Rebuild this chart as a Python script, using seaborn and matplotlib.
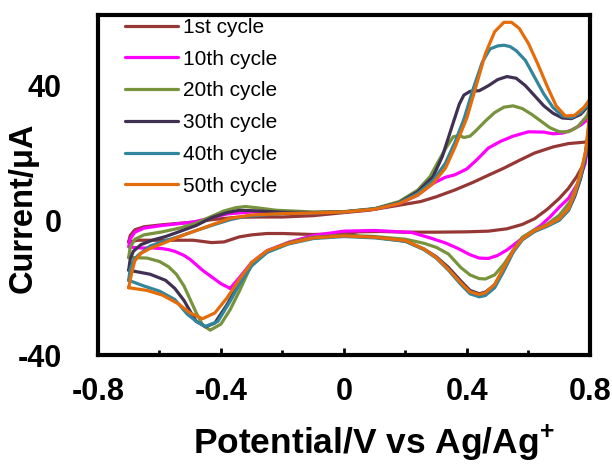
import pandas as pd
import seaborn as sns
from matplotlib import pyplot as plt

# cyclic voltammograms, each listed in scan order (anodic sweep then cathodic sweep)
cycles = ['1st cycle', '10th cycle', '20th cycle', '30th cycle', '40th cycle', '50th cycle']
colors = ['#953735', '#FF00FF', '#77933C', '#403152', '#31859C', '#E46C0A']

v_1st = [-0.70, -0.695, -0.68, -0.65, -0.59, -0.50, -0.42, -0.35, -0.28, -0.20, -0.10, 0.00, 0.08, 0.16,
         0.25, 0.30, 0.36, 0.42, 0.46, 0.52, 0.57, 0.62, 0.68, 0.73, 0.78, 0.80,
         0.79, 0.775, 0.757, 0.73, 0.70, 0.66, 0.62, 0.58, 0.53, 0.47, 0.40, 0.30, 0.20, 0.12, 0.05,
         0.00, -0.10, -0.20, -0.25, -0.30, -0.34, -0.39, -0.43, -0.49, -0.59, -0.67, -0.70]
i_1st = [-6.4, -4.5, -2.8, -1.9, -1.3, -0.6, 0.3, 0.9, 1.0, 1.0, 1.4, 2.3, 3.0, 4.2,
         5.6, 7.0, 9.0, 11.3, 13.0, 15.5, 17.8, 20.0, 21.8, 22.8, 23.2, 23.5,
         19.5, 16.0, 13.0, 9.5, 6.5, 3.2, 0.5, -1.2, -2.5, -3.2, -3.4, -3.5, -3.5, -3.3, -3.4,
         -3.9, -4.2, -3.9, -3.9, -4.3, -4.9, -6.4, -6.6, -5.9, -5.9, -5.9, -6.4]

v_10th = [-0.37, -0.40, -0.43, -0.46, -0.485, -0.50, -0.52, -0.55, -0.57, -0.59, -0.62, -0.66, -0.70,
          -0.695, -0.68, -0.65, -0.59, -0.49, -0.43, -0.38, -0.30, -0.20, -0.10, 0.00, 0.10, 0.18,
          0.24, 0.29, 0.33, 0.36, 0.40, 0.43, 0.47, 0.51, 0.55, 0.60, 0.65, 0.68, 0.71, 0.74, 0.77, 0.80,
          0.795, 0.784, 0.76, 0.73, 0.70, 0.67, 0.64, 0.60, 0.57, 0.53, 0.50, 0.47, 0.44, 0.41, 0.37,
          0.33, 0.28, 0.22, 0.10, 0.00, -0.10, -0.18, -0.25, -0.30, -0.34, -0.37]
i_10th = [-20.2, -18.8, -16.8, -14.8, -12.8, -11.6, -10.4, -9.2, -8.7, -8.4, -8.2, -8.2, -7.9,
          -5.5, -3.5, -2.3, -1.5, -0.5, 0.8, 1.9, 2.5, 2.4, 2.3, 2.5, 3.3, 5.0,
          7.5, 11.0, 12.8, 13.5, 15.3, 17.8, 21.5, 23.5, 25.0, 26.3, 26.2, 25.7, 25.9, 26.8, 28.3, 30.5,
          24.0, 16.8, 10.9, 6.5, 3.9, 1.0, -1.5, -4.0, -6.0, -8.8, -10.4, -11.3, -11.2, -10.2, -8.3,
          -6.7, -5.2, -3.6, -3.0, -3.2, -4.5, -6.5, -9.0, -12.5, -17.0, -20.2]

v_20th = [-0.70, -0.695, -0.68, -0.65, -0.59, -0.53, -0.48, -0.43, -0.39, -0.35, -0.32, -0.28, -0.22,
          -0.10, 0.00, 0.10, 0.18, 0.24, 0.28, 0.31, 0.335, 0.355, 0.375, 0.39, 0.41, 0.43, 0.46, 0.49,
          0.52, 0.55, 0.58, 0.61, 0.64, 0.67, 0.70, 0.73, 0.76, 0.79, 0.80,
          0.795, 0.78, 0.76, 0.735, 0.70, 0.66, 0.62, 0.58, 0.55, 0.52, 0.49, 0.46, 0.44, 0.41, 0.38,
          0.34, 0.30, 0.26, 0.20, 0.10, 0.00, -0.10, -0.18, -0.25, -0.30, -0.34, -0.37, -0.40, -0.435,
          -0.46, -0.48, -0.50, -0.52, -0.545, -0.57, -0.60, -0.64, -0.70]
i_20th = [-11.0, -8.0, -5.6, -4.3, -3.4, -2.2, -0.8, 1.2, 2.8, 3.8, 4.1, 3.7, 3.0,
          2.5, 2.6, 3.5, 5.6, 9.0, 13.0, 18.0, 22.0, 24.8, 25.2, 24.6, 25.0, 26.7, 29.5, 32.0,
          33.6, 34.0, 33.2, 31.5, 29.5, 27.5, 26.3, 26.3, 27.8, 31.0, 33.5,
          25.0, 17.8, 11.0, 5.5, 1.5, -1.2, -2.8, -5.0, -8.9, -13.0, -16.2, -17.4, -17.3, -16.2, -14.0,
          -10.0, -8.0, -6.8, -5.6, -4.8, -4.4, -5.0, -6.6, -9.2, -13.0, -21.0, -26.5, -30.8, -32.6,
          -31.0, -27.5, -23.5, -19.5, -16.0, -13.8, -12.2, -11.2, -11.0]

v_30th = [-0.70, -0.695, -0.685, -0.66, -0.62, -0.58, -0.54, -0.48, -0.43, -0.38, -0.34, -0.28, -0.20,
          -0.10, 0.00, 0.10, 0.18, 0.24, 0.29, 0.32, 0.35, 0.375, 0.39, 0.41, 0.44, 0.47, 0.50, 0.53,
          0.56, 0.59, 0.62, 0.65, 0.68, 0.71, 0.74, 0.77, 0.80,
          0.795, 0.785, 0.77, 0.75, 0.73, 0.70, 0.66, 0.62, 0.58, 0.55, 0.52, 0.49, 0.46, 0.44, 0.41,
          0.38, 0.34, 0.30, 0.26, 0.20, 0.10, 0.00, -0.10, -0.18, -0.25, -0.30, -0.34, -0.38, -0.42,
          -0.45, -0.48, -0.50, -0.52, -0.55, -0.58, -0.63, -0.70]
i_30th = [-14.8, -11.5, -9.2, -7.2, -5.8, -4.8, -3.5, -1.5, 0.8, 2.3, 3.0, 2.8, 2.4,
          2.3, 2.5, 3.4, 5.3, 8.5, 13.0, 19.0, 27.5, 34.5, 37.2, 38.3, 38.5, 40.0, 41.8, 42.7,
          42.2, 40.0, 37.0, 34.0, 31.8, 30.4, 30.2, 31.5, 34.5,
          26.5, 18.5, 12.5, 7.0, 3.0, 0.2, -1.6, -3.2, -5.6, -9.2, -14.5, -19.2, -21.3, -21.8, -20.8,
          -18.0, -14.0, -10.8, -8.5, -6.2, -5.0, -4.6, -5.2, -6.8, -9.4, -13.2, -18.5, -25.0, -30.5,
          -31.6, -30.0, -27.0, -23.8, -20.2, -17.8, -16.0, -14.8]

v_40th = [-0.70, -0.695, -0.685, -0.67, -0.63, -0.58, -0.54, -0.48, -0.43, -0.37, -0.32, -0.20, -0.10,
          0.00, 0.10, 0.18, 0.24, 0.29, 0.33, 0.36, 0.39, 0.42, 0.45, 0.475, 0.50, 0.52, 0.54, 0.56,
          0.59, 0.62, 0.65, 0.68, 0.71, 0.74, 0.77, 0.79, 0.80,
          0.795, 0.785, 0.77, 0.75, 0.73, 0.70, 0.66, 0.62, 0.58, 0.55, 0.52, 0.49, 0.46, 0.44, 0.41,
          0.38, 0.34, 0.30, 0.26, 0.20, 0.10, 0.00, -0.10, -0.18, -0.25, -0.30, -0.34, -0.37, -0.41,
          -0.45, -0.48, -0.51, -0.55, -0.60, -0.65, -0.70]
i_40th = [-17.8, -14.5, -12.0, -10.4, -7.6, -6.0, -4.9, -3.0, -1.5, 0.2, 1.2, 2.0, 2.2,
          2.5, 3.4, 5.2, 8.0, 11.8, 17.0, 23.0, 30.0, 39.0, 47.0, 50.9, 51.8, 52.0, 51.6, 50.4,
          47.5, 42.5, 37.5, 33.5, 31.0, 30.5, 32.0, 34.0, 35.5,
          27.0, 19.0, 13.0, 7.5, 3.0, 0.0, -1.8, -3.3, -5.8, -9.5, -15.0, -20.0, -22.3, -22.7, -21.8,
          -19.0, -14.8, -11.2, -8.7, -6.2, -5.2, -4.8, -5.4, -7.0, -9.5, -13.5, -19.0, -24.0, -30.0,
          -31.5, -30.0, -27.8, -23.5, -21.0, -19.5, -17.8]

v_50th = [-0.70, -0.69, -0.68, -0.66, -0.63, -0.59, -0.54, -0.48, -0.42, -0.37, -0.30, -0.20, -0.10,
          0.00, 0.10, 0.18, 0.24, 0.29, 0.33, 0.36, 0.40, 0.43, 0.46, 0.49, 0.52, 0.545, 0.57, 0.60,
          0.63, 0.66, 0.69, 0.72, 0.75, 0.78, 0.80,
          0.795, 0.785, 0.77, 0.75, 0.73, 0.70, 0.66, 0.62, 0.58, 0.55, 0.52, 0.49, 0.46, 0.44, 0.41,
          0.38, 0.34, 0.30, 0.26, 0.20, 0.10, 0.00, -0.10, -0.18, -0.25, -0.30, -0.34, -0.38, -0.42,
          -0.46, -0.50, -0.54, -0.59, -0.64, -0.70]
i_50th = [-20.0, -15.5, -12.0, -9.8, -8.3, -6.9, -5.0, -3.0, -1.0, 0.6, 1.6, 2.0, 2.2,
          2.5, 3.3, 5.0, 7.5, 11.0, 15.5, 21.5, 30.5, 40.0, 49.5, 56.0, 58.8, 58.8, 57.0, 52.5,
          46.5, 40.0, 34.0, 31.0, 31.2, 33.5, 36.0,
          28.0, 20.0, 14.0, 8.0, 3.5, 0.5, -1.5, -3.0, -5.5, -9.0, -14.0, -19.0, -21.5, -22.0, -21.2,
          -18.5, -14.5, -11.0, -8.5, -6.0, -5.0, -4.6, -5.2, -6.8, -9.0, -12.5, -17.5, -23.0, -27.5,
          -29.2, -27.5, -24.7, -22.2, -20.8, -20.0]

x_ticks = [-0.8, -0.4, 0, 0.4, 0.8]
x_tick_labels = ['-0.8', '-0.4', '0', '0.4', '0.8']
x_minor = [-0.6, -0.2, 0.2, 0.6]
y_ticks = [-40, 0, 40]
y_tick_labels = ['-40', '0', '40']


sns.set_style('white')
plt.rcParams['font.family'] = ['Liberation Sans', 'DejaVu Sans']
plt.rcParams['mathtext.fontset'] = 'custom'
plt.rcParams['mathtext.rm'] = 'Liberation Sans:bold'
plt.rcParams['mathtext.default'] = 'rm'
for key in ['text.color', 'axes.labelcolor', 'xtick.color', 'ytick.color']:
    plt.rcParams[key] = 'black'

frames = []
for name, v, i in zip(cycles, [v_1st, v_10th, v_20th, v_30th, v_40th, v_50th],
                      [i_1st, i_10th, i_20th, i_30th, i_40th, i_50th]):
    frames.append(pd.DataFrame({'potential': v, 'current': i, 'cycle': name}))
data = pd.concat(frames, ignore_index=True)

fig, ax = plt.subplots(figsize=(6.12, 4.66), dpi=100)
fig.subplots_adjust(left=0.160, right=0.964, bottom=0.238, top=0.968)

sns.lineplot(data=data, x='potential', y='current', hue='cycle', hue_order=cycles,
             palette=colors, sort=False, estimator=None, linewidth=2.3,
             solid_joinstyle='round', ax=ax)

ax.set_xlim(-0.8, 0.8)
ax.set_ylim(-40, 61)
ax.set_xticks(x_ticks)
ax.set_xticklabels(x_tick_labels)
ax.set_xticks(x_minor, minor=True)
ax.set_yticks(y_ticks)
ax.set_yticklabels(y_tick_labels)
ax.tick_params(axis='x', which='major', direction='in', length=5, width=2, pad=16,
               labelsize=22, bottom=True)
ax.tick_params(axis='x', which='minor', direction='in', length=3.5, width=2, bottom=True)
ax.tick_params(axis='y', length=0, pad=26, labelsize=22)
for lab in ax.get_xticklabels() + ax.get_yticklabels():
    lab.set_fontweight('bold')

for side in ['left', 'right', 'top', 'bottom']:
    ax.spines[side].set_visible(True)
    ax.spines[side].set_linewidth(3)
    ax.spines[side].set_color('black')

ax.set_xlabel(r'Potential/V vs Ag/Ag$^{+}$', fontsize=25.5, fontweight='bold')
ax.set_ylabel('Current/μA', fontsize=23.5, fontweight='bold')
ax.xaxis.set_label_coords(0.56, -0.2)
ax.yaxis.set_label_coords(-0.12, 0.434)

handles, labels = ax.get_legend_handles_labels()
leg = ax.legend(handles, labels, loc='upper left', bbox_to_anchor=(0.055, 0.991),
                frameon=False, fontsize=15, handlelength=2.55, handletextpad=0.25,
                labelspacing=0.61, borderpad=0, borderaxespad=0)
for line in leg.get_lines():
    line.set_linewidth(2.3)

fig.savefig('out.png', dpi=100)
